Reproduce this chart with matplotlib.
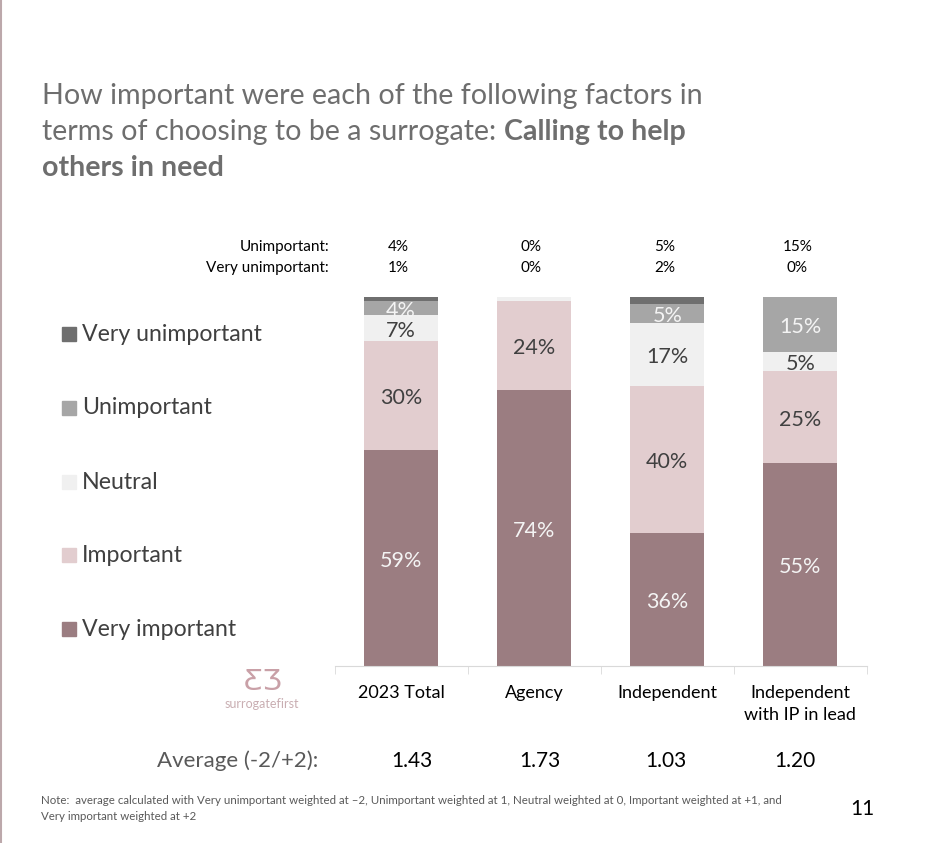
import numpy as np
import matplotlib
matplotlib.use("Agg")
import matplotlib.pyplot as plt
from matplotlib.patches import Rectangle
from matplotlib.lines import Line2D

plt.rcParams['font.family'] = ['Lato', 'DejaVu Sans']

W, H = 946, 843

categories = ["2023 Total", "Agency", "Independent", "Independent\nwith IP in lead"]
levels = ["Very important", "Important", "Neutral", "Unimportant", "Very unimportant"]
very_important = [59, 74, 36, 55]
important = [30, 24, 40, 25]
neutral = [7, 1, 17, 5]
unimportant = [4, 0, 5, 15]
very_unimportant = [1, 0, 2, 0]
averages = ["1.43", "1.73", "1.03", "1.20"]
# segments below this get no label inside the bar
show_min = 3

colors = ["#9b7d81", "#e2cdcf", "#f0f0f0", "#a6a6a6", "#6f6f6f"]
text_colors = ["#f4f4f4", "#404040", "#404040", "#f4f4f4", "#f4f4f4"]


def fx(px):
    return px / W


def fy(py):
    return 1 - py / H


fig = plt.figure(figsize=(W / 100, H / 100), dpi=100)
ax = fig.add_axes([fx(334.5), fy(666), fx(867) - fx(334.5), fy(297) - fy(666)])

series = [very_important, important, neutral, unimportant, very_unimportant]
data = np.array(series, dtype=float)
totals = data.sum(axis=0)
shares = data / totals * 100
x = np.arange(len(categories))
bottom = np.zeros(len(categories))
for k in range(len(series)):
    ax.bar(x, shares[k], bottom=bottom, width=0.555, color=colors[k], linewidth=0)
    for i in range(len(categories)):
        v = series[k][i]
        if v >= show_min:
            ax.annotate(f"{v}%", (x[i], bottom[i] + shares[k][i] / 2), xytext=(0, -2),
                        textcoords="offset points", ha="center", va="center",
                        fontsize=15.5, color=text_colors[k])
    bottom += shares[k]

ax.set_xlim(-0.5, 3.5)
ax.set_ylim(0, 100)
for s in ["top", "right", "left"]:
    ax.spines[s].set_visible(False)
ax.spines["bottom"].set_color("#d9d9d9")
ax.set_yticks([])
ax.set_xticks(x)
ax.set_xticklabels(categories, fontsize=13, color="#000000", linespacing=1.45)
ax.tick_params(axis="x", which="major", length=0, pad=14)
ax.set_xticks(np.arange(-0.5, 4, 1), minor=True)
ax.tick_params(axis="x", which="minor", length=6, color="#d9d9d9")

# title
tsize = 20.6
fig.text(fx(42), fy(96), "How important were each of the following factors in",
         fontsize=tsize, color="#6e6e6e", va="center")
t1 = fig.text(fx(42), fy(132), "terms of choosing to be a surrogate: ",
              fontsize=tsize, color="#6e6e6e", va="center")
fig.canvas.draw()
bb = t1.get_window_extent()
fig.text(bb.x1 / W, fy(132), "Calling to help", fontsize=tsize, color="#6e6e6e",
         fontweight="bold", va="center")
fig.text(fx(42), fy(168), "others in need", fontsize=tsize, color="#6e6e6e",
         fontweight="bold", va="center")

# small table above bars
fig.text(fx(329), fy(247), "Unimportant:", fontsize=11, ha="right", va="center", color="#000000")
fig.text(fx(329), fy(268), "Very unimportant:", fontsize=11, ha="right", va="center", color="#000000")
avg_x = [412, 540, 666, 795]
for i in range(len(categories)):
    xp = fx(334.5) + (x[i] + 0.5) / 4 * (fx(867) - fx(334.5))
    fig.text(xp - fx(3), fy(247), f"{unimportant[i]}%", fontsize=11, ha="center", va="center")
    fig.text(xp - fx(3), fy(268), f"{very_unimportant[i]}%", fontsize=11, ha="center", va="center")
    fig.text(fx(avg_x[i]), fy(761), averages[i], fontsize=15, ha="center", va="center",
             color="#000000")

fig.text(fx(318), fy(761), "Average (-2/+2):", fontsize=16, ha="right", va="center", color="#595959")

# legend
leg_y = [334, 408, 482, 555, 629]
for k, lab in enumerate(levels[::-1]):
    c = colors[::-1][k]
    fig.patches.append(Rectangle((fx(62), fy(leg_y[k] + 7)), fx(14), fy(0) - fy(14),
                                 transform=fig.transFigure, color=c, figure=fig))
    fig.text(fx(82), fy(leg_y[k]), lab, fontsize=16.7, va="center", color="#404040")

# logo
fig.text(fx(263), fy(682), "ƸƷ", fontsize=21, ha="center", va="center", color="#c9a0a7",
         family="DejaVu Sans")
fig.text(fx(262), fy(704), "surrogatefirst", fontsize=9, ha="center", va="center",
         color="#c9aeb2")

# notes
nsize = 8.3
fig.text(fx(41), fy(800), "Note:  average calculated with Very unimportant weighted at \u20132, "
         "Unimportant weighted at 1, Neutral weighted at 0, Important weighted at +1, and",
         fontsize=nsize, color="#595959", va="center")
fig.text(fx(41), fy(817), "Very important weighted at +2", fontsize=nsize, color="#595959", va="center")
fig.text(fx(862), fy(809), "11", fontsize=15, ha="center", va="center", color="#000000")

fig.add_artist(Line2D([fx(1), fx(1)], [0, 1], color="#bca8ab", linewidth=1.5))

fig.savefig("out.png", dpi=100, facecolor="white")
